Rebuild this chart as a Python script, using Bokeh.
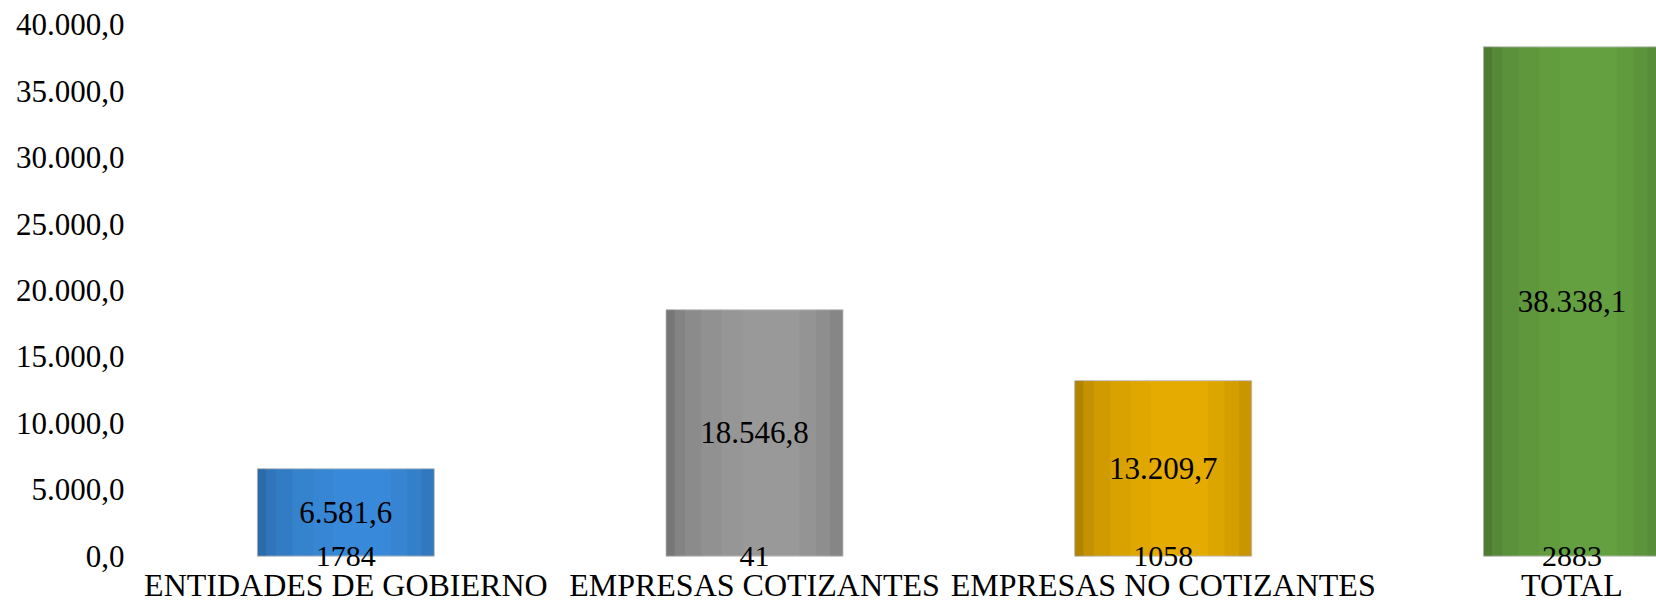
from bokeh.plotting import figure
from bokeh.models import ColumnDataSource, Range1d, FixedTicker
from bokeh.transform import dodge
from bokeh.core.properties import value
from bokeh.embed import file_html
from bokeh.resources import INLINE

categories = ["ENTIDADES DE GOBIERNO", "EMPRESAS COTIZANTES", "EMPRESAS NO COTIZANTES", "TOTAL"]
amounts = [6581.6, 18546.8, 13209.7, 38338.1]
counts = [1784, 41, 1058, 2883]
bar_colors = ["#3889d9", "#999999", "#e5ab00", "#64a040"]
y_ticks = [0, 5000, 10000, 15000, 20000, 25000, 30000, 35000, 40000]
y_tick_labels = ["0,0", "5.000,0", "10.000,0", "15.000,0", "20.000,0",
                 "25.000,0", "30.000,0", "35.000,0", "40.000,0"]


def es_fmt(v):
    s = f"{v:,.1f}"
    return s.replace(",", "X").replace(".", ",").replace("X", ".")


idx = list(range(len(categories)))
src = ColumnDataSource(dict(
    x=idx,
    top=amounts,
    mid=[a / 2 for a in amounts],
    zero=[0] * len(amounts),
    color=bar_colors,
    vlabel=[es_fmt(a) for a in amounts],
    clabel=[str(c) for c in counts],
))

FONT = "Liberation Serif"
FS = "31px"
BW = 0.433

p = figure(width=1656, height=605, output_backend="svg", toolbar_location=None,
           x_range=Range1d(-0.5, 3.207), y_range=Range1d(-1005, 41823),
           min_border_left=141, min_border_right=0, min_border_top=0,
           min_border_bottom=34, outline_line_color=None)
p.background_fill_color = "white"
p.border_fill_color = "white"

p.vbar(x="x", bottom=0, top="top", width=BW, fill_color="color", line_color="#c8c8c8",
       line_width=1, source=src)

# cylinder-like shading strips (left darker, right slightly darker)
shades = [(-0.2165, -0.195, 0.22), (-0.195, -0.17, 0.14), (-0.17, -0.13, 0.09),
          (-0.13, -0.08, 0.05), (-0.08, -0.03, 0.02),
          (0.11, 0.15, 0.03), (0.15, 0.185, 0.07), (0.185, 0.2165, 0.12)]
for a, b, alpha in shades:
    p.vbar(x=dodge("x", (a + b) / 2), bottom=0, top="top", width=(b - a),
           fill_color="black", fill_alpha=alpha, line_color=None, source=src)

p.text(x="x", y="mid", text="vlabel", source=src, text_align="center",
       text_baseline="middle", text_font=value(FONT), text_font_size=FS,
       text_color="black")
p.text(x="x", y="zero", text="clabel", source=src, text_align="center",
       text_baseline="middle", text_font=value(FONT), text_font_size="30px",
       text_color="black")

p.xgrid.visible = False
p.ygrid.visible = False

xa = p.xaxis[0]
xa.ticker = FixedTicker(ticks=idx)
xa.major_label_overrides = {i: c for i, c in zip(idx, categories)}
xa.axis_line_color = None
xa.major_tick_line_color = None
xa.minor_tick_line_color = None
xa.major_tick_out = 0
xa.major_label_standoff = -3
xa.major_label_text_font = FONT
xa.major_label_text_font_size = "32px"
xa.major_label_text_color = "black"

ya = p.yaxis[0]
ya.ticker = FixedTicker(ticks=y_ticks)
ya.major_label_overrides = {t: l for t, l in zip(y_ticks, y_tick_labels)}
ya.axis_line_color = None
ya.major_tick_line_color = None
ya.minor_tick_line_color = None
ya.major_tick_out = 0
ya.major_label_standoff = 17
ya.major_label_text_font = FONT
ya.major_label_text_font_size = FS
ya.major_label_text_color = "black"

open("out.html", "w").write(file_html(p, INLINE))
